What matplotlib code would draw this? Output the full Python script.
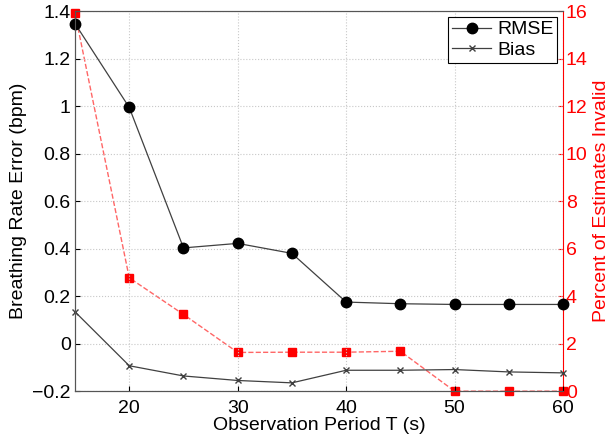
import numpy as np
import matplotlib.pyplot as plt

plt.rcParams['font.family'] = ['Liberation Sans', 'DejaVu Sans']

T = [15, 20, 25, 30, 35, 40, 45, 50, 55, 60]
rmse = [1.347, 0.994, 0.403, 0.422, 0.38, 0.175, 0.168, 0.165, 0.165, 0.165]
bias = [0.134, -0.093, -0.136, -0.155, -0.165, -0.112, -0.112, -0.109, -0.119, -0.123]
invalid = [15.9, 4.77, 3.23, 1.63, 1.64, 1.64, 1.68, 0, 0, 0]

fig = plt.figure(figsize=(6.1, 4.41), dpi=100)
ax = fig.add_axes([0.123, 0.113, 0.8, 0.862])
ax2 = ax.twinx()

# red series on the right axis, drawn behind
ax2.plot(T, invalid, '--', color='#ff6666', lw=1.0, zorder=1)
ax2.plot(T, invalid, 's', color='red', ms=6, mec='red', clip_on=False, zorder=2)
ax2.set_ylim(0, 16)
ax2.set_yticks(np.arange(0, 17, 2))
ax2.set_ylabel('Percent of Estimates Invalid', color='red', fontsize=14, labelpad=4)
ax2.tick_params(axis='y', colors='red', direction='in', labelsize=14, pad=2)
ax2.spines['right'].set_color('red')

ax.set_zorder(ax2.get_zorder() + 1)
ax.patch.set_visible(False)
ax.plot(T, rmse, '-o', color='#404040', mfc='black', mec='black', ms=7.5, lw=0.9, label='RMSE', clip_on=False)
ax.plot(T, bias, '-x', color='#404040', mec='#404040', ms=5, lw=0.9, label='Bias', clip_on=False)
ax.set_xlim(15, 60)
ax.set_ylim(-0.2, 1.4)
ax.set_xticks([20, 30, 40, 50, 60])
ax.set_yticks(np.arange(-0.2, 1.41, 0.2))
ax.set_yticklabels(['\u22120.2', '0', '0.2', '0.4', '0.6', '0.8', '1', '1.2', '1.4'])
ax.grid(True, linestyle=':', color='#c8c8c8', lw=0.8)
ax.tick_params(axis='y', direction='in', labelsize=14, pad=3)
ax.tick_params(axis='x', direction='in', labelsize=14, pad=6, top=False)
ax.set_xlabel('Observation Period T (s)', fontsize=14, labelpad=0)
ax.set_ylabel('Breathing Rate Error (bpm)', fontsize=14, labelpad=4)
for s in ['top', 'left', 'bottom']:
    ax.spines[s].set_color('#555555')
ax.spines['right'].set_visible(False)
ax2.spines['top'].set_color('#555555')
ax2.spines['left'].set_color('#555555')
ax2.spines['bottom'].set_color('#555555')

leg = ax.legend(loc='upper right', fontsize=14, fancybox=False, framealpha=1,
                edgecolor='black', handlelength=2, borderaxespad=0.3,
                borderpad=0.2, labelspacing=0.15, handletextpad=0.3)
leg.get_frame().set_linewidth(0.8)

fig.savefig('out.png', dpi=100)
